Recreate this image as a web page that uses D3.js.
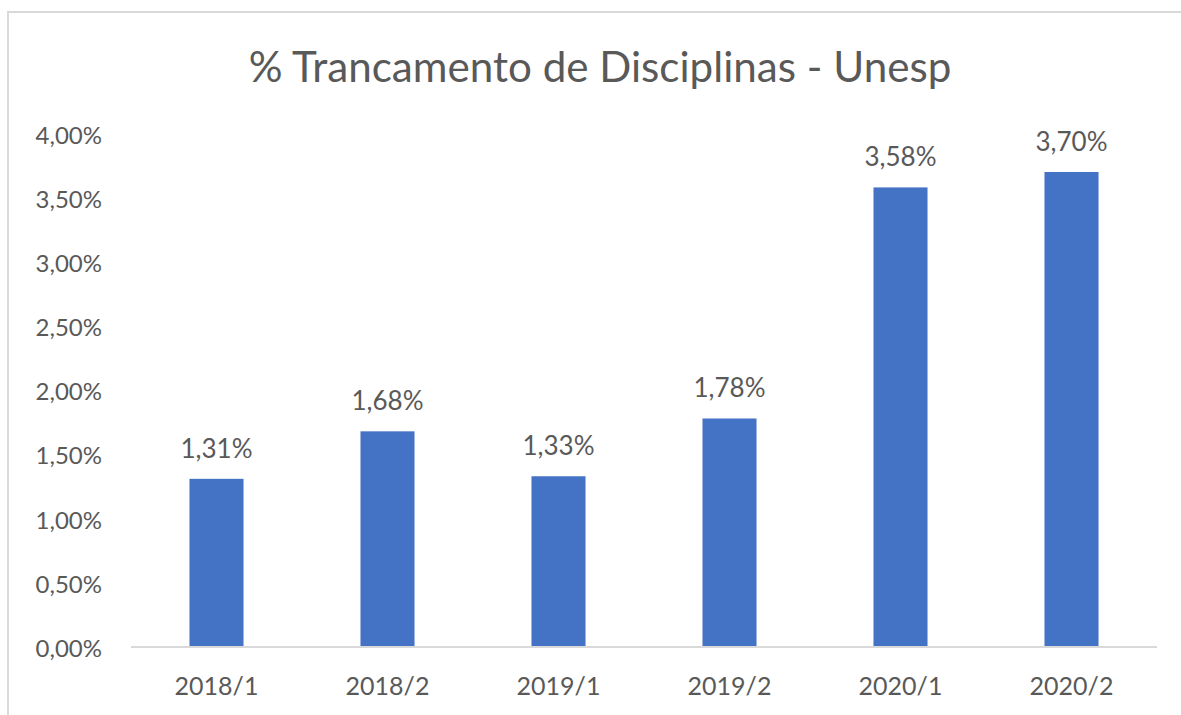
<!DOCTYPE html>
<html>
<head>
<meta charset="utf-8">
<script src="https://cdn.jsdelivr.net/npm/d3@7"></script>
<style>
  html, body { margin: 0; padding: 0; background: #fff; }
  svg { display: block; }
  text { font-family: Lato, "Open Sans", sans-serif; fill: #595959; }
</style>
</head>
<body>
<svg id="chart" width="1181" height="715"></svg>
<script>
const title = "% Trancamento de Disciplinas - Unesp";
const categories = ["2018/1", "2018/2", "2019/1", "2019/2", "2020/1", "2020/2"];
const values = [1.31, 1.68, 1.33, 1.78, 3.58, 3.70];
const yTicks = [0, 0.5, 1.0, 1.5, 2.0, 2.5, 3.0, 3.5, 4.0];

const svg = d3.select("#chart");
const W = 1181, H = 715;
const plot = { left: 131, right: 1157, top: 133.5, bottom: 647 };

const locale = d3.formatLocale({ decimal: ",", thousands: ".", grouping: [3], currency: ["R$", ""] });
const fmt = v => locale.format(".2f")(v) + "%";

// chart border (extends past the right and bottom edges)
svg.append("rect")
  .attr("x", 8).attr("y", 12)
  .attr("width", W + 20).attr("height", H + 20)
  .attr("fill", "#fff")
  .attr("stroke", "#d9d9d9").attr("stroke-width", 2);

const x = d3.scaleBand().domain(categories).range([plot.left, plot.right]).padding(0);
const y = d3.scaleLinear().domain([0, 4]).range([plot.bottom, plot.top]);
const barW = x.bandwidth() * 0.316;

// title, fitted to width
const t = svg.append("text")
  .attr("x", 600).attr("y", 82)
  .attr("text-anchor", "middle")
  .style("font-size", "41px")
  .text(title);
const tw = t.node().getComputedTextLength();
t.style("font-size", (41 * 703 / tw) + "px");

// y axis
const yAxis = d3.axisLeft(y).tickValues(yTicks).tickFormat(fmt).tickSize(0).tickPadding(0);
const gy = svg.append("g").attr("transform", `translate(102,0)`).call(yAxis);
gy.select(".domain").remove();
gy.selectAll("text")
  .attr("dy", null)
  .attr("dominant-baseline", "central")
  .style("font-size", "24px").style("font-family", null).attr("fill", "#595959");

// bars
svg.append("g").selectAll("rect")
  .data(values)
  .join("rect")
  .attr("x", (d, i) => x(categories[i]) + (x.bandwidth() - barW) / 2)
  .attr("y", d => y(d))
  .attr("width", barW)
  .attr("height", d => y(0) - y(d))
  .attr("fill", "#4472C4");

// baseline
svg.append("line")
  .attr("x1", plot.left).attr("x2", plot.right)
  .attr("y1", y(0)).attr("y2", y(0))
  .attr("stroke", "#d9d9d9").attr("stroke-width", 2);

// x axis labels
const xAxis = d3.axisBottom(x).tickSize(0).tickPadding(0);
const gx = svg.append("g").attr("transform", `translate(0,${y(0)})`).call(xAxis);
gx.select(".domain").remove();
gx.selectAll("text")
  .attr("y", 48).attr("dy", null)
  .style("font-size", "25px").style("font-family", null).attr("fill", "#595959");

// data labels
svg.append("g").selectAll("text")
  .data(values)
  .join("text")
  .attr("x", (d, i) => x(categories[i]) + x.bandwidth() / 2)
  .attr("y", d => y(d) - 21)
  .attr("text-anchor", "middle")
  .style("font-size", "26px")
  .text(d => fmt(d));
</script>
</body>
</html>
